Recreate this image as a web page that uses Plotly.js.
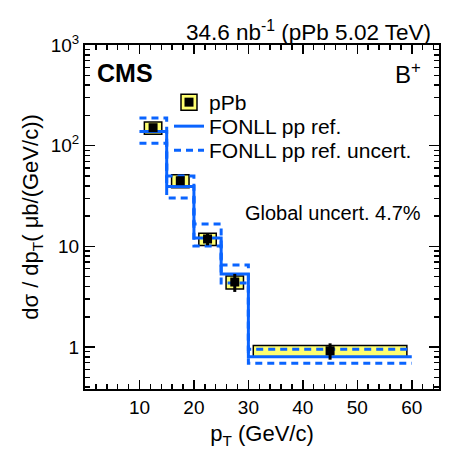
<!DOCTYPE html>
<html>
<head>
<meta charset="utf-8">
<script src="https://cdn.plot.ly/plotly-3.0.1.min.js"></script>
<style>html,body{margin:0;padding:0;background:#fff;}#plot{width:457px;height:458px;}</style>
</head>
<body>
<div id="plot"></div>
<script>
// ---- data ----
const binEdges = [10, 15, 20, 25, 30, 60];
const pointX = [12.5, 17.5, 22.5, 27.5, 45];
const ppbValues = [151, 44.9, 11.85, 4.43, 0.92];
const ppbStat = [4, 1.5, 1.6, 0.9, 0.17];
const ppbSyst = [21, 6.7, 1.65, 0.65, 0.12];
const fonllCentral = [138, 39.4, 12.1, 5.32, 0.80];
const fonllUpper = [188, 50, 16.7, 6.53, 0.95];
const fonllLower = [106, 30.3, 10.1, 4.33, 0.69];
const yTickVals = [1, 10, 100, 1000];
const yTickText = ['1', '10', '10<sup>2</sup>', '10<sup>3</sup>'];
const xTickVals = [10, 20, 30, 40, 50, 60];

// ---- styling ----
const FONT = 'Liberation Sans, Arial, Helvetica, sans-serif';
const BLUE = '#0a64ff';
const YELLOW = '#ffff70';
const boxWidths = [3.2, 3.2, 3.2, 3.2, 28.2];

const step = arr => arr.concat([arr[arr.length - 1]]);
const yMinor = [];
[0.1, 1, 10, 100].forEach(d => { for (let k = 2; k <= 9; k++) yMinor.push(k * d); });

const traces = [
  { // systematic boxes
    type: 'bar', x: pointX, y: ppbSyst.map(s => 2 * s),
    base: ppbValues.map((v, i) => v - ppbSyst[i]),
    width: boxWidths, marker: {color: YELLOW, line: {color: 'black', width: 1.5}},
    showlegend: false, hoverinfo: 'skip'
  },
  { // legend symbol for pPb box
    type: 'scatter', mode: 'markers', x: [null], y: [null], name: 'pPb',
    marker: {symbol: 'square', size: 16, color: YELLOW, line: {color: 'black', width: 1.5}},
    legend: 'legend'
  },
  {
    type: 'scatter', mode: 'lines', x: binEdges, y: step(fonllCentral),
    line: {shape: 'hv', color: BLUE, width: 3}, name: 'FONLL pp ref.', legend: 'legend3'
  },
  {
    type: 'scatter', mode: 'lines', x: binEdges, y: step(fonllUpper),
    line: {shape: 'hv', color: BLUE, width: 3, dash: '7px,5px'}, name: 'FONLL pp ref. uncert.', legend: 'legend4'
  },
  {
    type: 'scatter', mode: 'lines', x: binEdges, y: step(fonllLower),
    line: {shape: 'hv', color: BLUE, width: 3, dash: '7px,5px'}, name: 'FONLL pp ref. uncert.', showlegend: false
  },
  {
    type: 'scatter', mode: 'markers', x: pointX, y: ppbValues, name: 'pPb',
    marker: {symbol: 'square', size: 9, color: 'black'},
    error_y: {type: 'data', array: ppbStat, color: 'black', thickness: 3, width: 0},
    legend: 'legend2'
  }
];

const L = 85, R = 439, T = 45, B = 389;
const px = x => (x - L) / (R - L);
const py = y => (B - y) / (B - T);

const LEGFONT = 21;
const legendAt = (yCenter, color) => ({
  x: px(169), y: py(yCenter - 19), xanchor: 'left', yanchor: 'top',
  bgcolor: 'rgba(0,0,0,0)', borderwidth: 0, tracegroupgap: 0,
  font: {family: FONT, size: LEGFONT, color: color || 'black'}
});

const layout = {
  width: 457, height: 458,
  margin: {l: L, r: 457 - R, t: T, b: 458 - B, pad: 0},
  paper_bgcolor: 'white', plot_bgcolor: 'white',
  font: {family: FONT, color: 'black'},
  showlegend: true,
  barmode: 'overlay',
  legend: legendAt(101),
  legend2: legendAt(101, 'rgba(0,0,0,0)'),
  legend3: legendAt(125),
  legend4: legendAt(149),
  xaxis: {
    range: [0, 65], tickvals: xTickVals, ticks: 'inside', ticklen: 9, tickwidth: 1.5,
    tickcolor: 'black', showline: true, linecolor: 'black', linewidth: 2, mirror: 'ticks',
    showgrid: false, zeroline: false,
    tickfont: {family: FONT, size: 19},
    minor: {dtick: 2, ticks: 'inside', ticklen: 5, tickwidth: 1.5, tickcolor: 'black'},
    title: {text: 'p<sub>T</sub> (GeV/c)', font: {family: FONT, size: 22}, standoff: 9}
  },
  yaxis: {
    type: 'log', range: [3 - (B - T) / 100.7, 3],
    tickvals: yTickVals, ticktext: yTickText, ticks: 'inside', ticklen: 10, tickwidth: 1.5,
    tickcolor: 'black', showline: true, linecolor: 'black', linewidth: 2, mirror: 'ticks',
    showgrid: false, zeroline: false,
    tickfont: {family: FONT, size: 19},
    minor: {tickvals: yMinor, ticks: 'inside', ticklen: 5, tickwidth: 1.5, tickcolor: 'black'},
    title: {text: 'dσ / dp<sub>T</sub>( μb/(GeV/c))', font: {family: FONT, size: 22}, standoff: 6}
  },
  annotations: [
    {text: '34.6 nb<sup>-1</sup> (pPb 5.02 TeV)', xref: 'paper', yref: 'paper',
     x: px(433), y: py(31), xanchor: 'right', yanchor: 'middle', showarrow: false,
     font: {family: FONT, size: 22.5}},
    {text: '<b>CMS</b>', xref: 'paper', yref: 'paper', x: px(95), y: py(73),
     xanchor: 'left', yanchor: 'middle', showarrow: false, font: {family: FONT, size: 25}},
    {text: 'B<sup>+</sup>', xref: 'paper', yref: 'paper', x: px(423), y: py(73),
     xanchor: 'right', yanchor: 'middle', showarrow: false, font: {family: FONT, size: 24}},
    {text: 'Global uncert. 4.7%', xref: 'paper', yref: 'paper', x: px(243), y: py(213),
     xanchor: 'left', yanchor: 'middle', showarrow: false, font: {family: FONT, size: 20}}
  ]
};

Plotly.newPlot('plot', traces, layout, {displayModeBar: false, staticPlot: true});
</script>
</body>
</html>
